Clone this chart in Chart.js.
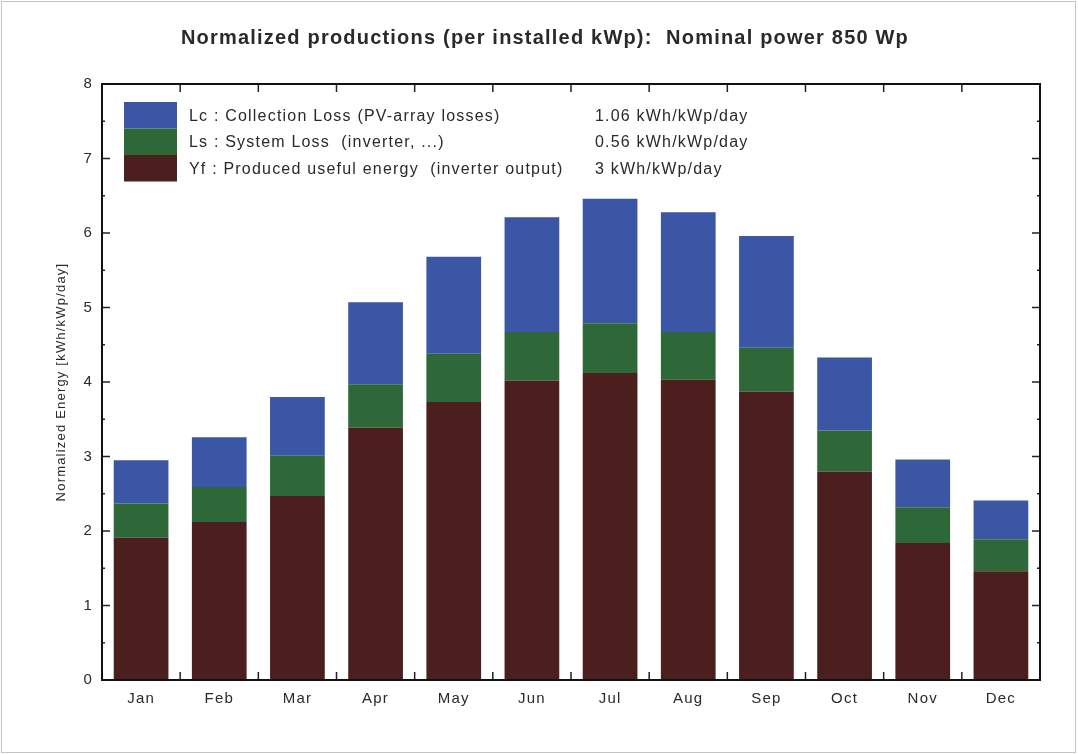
<!DOCTYPE html>
<html>
<head>
<meta charset="utf-8">
<script src="https://cdn.jsdelivr.net/npm/chart.js@4/dist/chart.umd.min.js"></script>
<style>
  html, body { margin: 0; padding: 0; background: #fff; }
  #wrap { width: 1078px; height: 754px; }
</style>
</head>
<body>
<div id="wrap"><canvas id="prodChart" width="1078" height="754"></canvas></div>
<script>
// Mois
const months = ['Jan', 'Feb', 'Mar', 'Apr', 'May', 'Jun', 'Jul', 'Aug', 'Sep', 'Oct', 'Nov', 'Dec'];

// Yf : energie utile produite (kWh/kWp/day)
const yfValues = [1.91, 2.12, 2.47, 3.39, 3.73, 4.02, 4.12, 4.03, 3.87, 2.80, 1.84, 1.46];
// Ls : pertes systeme
const lsValues = [0.46, 0.47, 0.54, 0.58, 0.65, 0.65, 0.67, 0.64, 0.59, 0.55, 0.48, 0.43];
// Lc : pertes de captation
const lcValues = [0.58, 0.67, 0.79, 1.10, 1.30, 1.54, 1.67, 1.61, 1.50, 0.98, 0.64, 0.52];

// Legende
const legendLabels = [
    'Lc : Collection Loss (PV-array losses)',
    'Ls : System Loss  (inverter, ...)',
    'Yf : Produced useful energy  (inverter output)'
];
const legendValues = ['1.06 kWh/kWp/day', '0.56 kWh/kWp/day', '3 kWh/kWp/day'];
const legendColors = ['#3a56a5', '#2e6838', '#4a1f1e'];

const yTicks = [0, 1, 2, 3, 4, 5, 6, 7, 8];

const FONT = '"Liberation Sans", Arial, sans-serif';

// texte un peu "etire" comme sur l'original
const spacingPlugin = {
    id: 'spacing',
    beforeLayout(chart) { chart.ctx.letterSpacing = '1.2px'; },
    beforeDraw(chart) { chart.ctx.letterSpacing = '1.2px'; }
};

// Cadre, graduations et legende dessines a la main
const framePlugin = {
    id: 'frame',
    afterDraw(chart) {
        const ctx = chart.ctx;
        const a = chart.chartArea;
        const x = chart.scales.x;
        const y = chart.scales.y;
        ctx.save();

        // bordure exterieure grise
        ctx.strokeStyle = '#c4c4c4';
        ctx.lineWidth = 1;
        ctx.strokeRect(1.5, 1.5, chart.width - 4, chart.height - 3);

        // graduations Y (gauche et droite)
        ctx.strokeStyle = '#222';
        ctx.lineWidth = 1.5;
        yTicks.forEach(v => {
            const py = y.getPixelForValue(v);
            ctx.beginPath();
            ctx.moveTo(a.left, py); ctx.lineTo(a.left + 8, py);
            ctx.moveTo(a.right, py); ctx.lineTo(a.right - 8, py);
            ctx.stroke();
            if (v < 8) {
                const pm = y.getPixelForValue(v + 0.5);
                ctx.beginPath();
                ctx.moveTo(a.left, pm); ctx.lineTo(a.left + 3, pm);
                ctx.moveTo(a.right, pm); ctx.lineTo(a.right - 3, pm);
                ctx.stroke();
            }
        });

        // graduations X entre les mois
        for (let i = 0; i < months.length - 1; i++) {
            const px = (x.getPixelForValue(i) + x.getPixelForValue(i + 1)) / 2;
            ctx.beginPath();
            ctx.moveTo(px, a.bottom); ctx.lineTo(px, a.bottom - 8);
            ctx.moveTo(px, a.top); ctx.lineTo(px, a.top + 8);
            ctx.stroke();
        }

        // cadre du graphique
        ctx.strokeStyle = '#111';
        ctx.lineWidth = 2;
        ctx.strokeRect(a.left, a.top, a.right - a.left, a.bottom - a.top);

        // legende
        const boxX = a.left + 22, boxW = 53, rowH = 26.5, top0 = a.top + 18;
        ctx.font = '16px ' + FONT;
        ctx.letterSpacing = '1.2px';
        ctx.textBaseline = 'middle';
        legendLabels.forEach((lbl, i) => {
            const ry = top0 + i * rowH;
            ctx.fillStyle = legendColors[i];
            ctx.fillRect(boxX, ry, boxW, rowH);
            ctx.fillStyle = '#2a2a2a';
            ctx.fillText(lbl, boxX + boxW + 12, ry + rowH / 2 + 1);
            ctx.fillText(legendValues[i], a.left + 493, ry + rowH / 2 + 1);
        });
        ctx.restore();
    }
};

const prodChartData = {
    type: 'bar',
    data: {
        labels: months,
        datasets: [
            { label: 'Yf', data: yfValues, backgroundColor: legendColors[2] },
            { label: 'Ls', data: lsValues, backgroundColor: legendColors[1] },
            { label: 'Lc', data: lcValues, backgroundColor: legendColors[0] }
        ]
    },
    options: {
        responsive: false,
        animation: false,
        layout: { padding: { left: 50, right: 38, top: 0, bottom: 34 } },
        datasets: { bar: { categoryPercentage: 1, barPercentage: 0.7 } },
        plugins: {
            legend: { display: false },
            tooltip: { enabled: false },
            title: {
                display: true,
                text: 'Normalized productions (per installed kWp):  Nominal power 850 Wp',
                color: '#2a2a2a',
                font: { family: FONT, size: 20, weight: 'bold' },
                padding: { top: 26, bottom: 34 }
            }
        },
        scales: {
            x: {
                stacked: true,
                grid: { display: false, drawTicks: false },
                border: { display: false },
                ticks: { color: '#2a2a2a', padding: 10, font: { family: FONT, size: 15 } },
                afterFit: s => { s.height = 40; }
            },
            y: {
                stacked: true,
                min: 0,
                max: 8,
                grid: { display: false, drawTicks: false },
                border: { display: false },
                ticks: { stepSize: 1, color: '#2a2a2a', padding: 9, font: { family: FONT, size: 15 } },
                title: {
                    display: true,
                    text: 'Normalized Energy [kWh/kWp/day]',
                    color: '#2a2a2a',
                    padding: { top: 4, bottom: 0 },
                    font: { family: FONT, size: 13 }
                },
                afterFit: s => { s.width = 52; }
            }
        }
    },
    plugins: [spacingPlugin, framePlugin]
};

window.onload = function() {
    const ctx = document.getElementById('prodChart').getContext('2d');
    const prodChart = new Chart(ctx, prodChartData);
}
</script>
</body>
</html>
